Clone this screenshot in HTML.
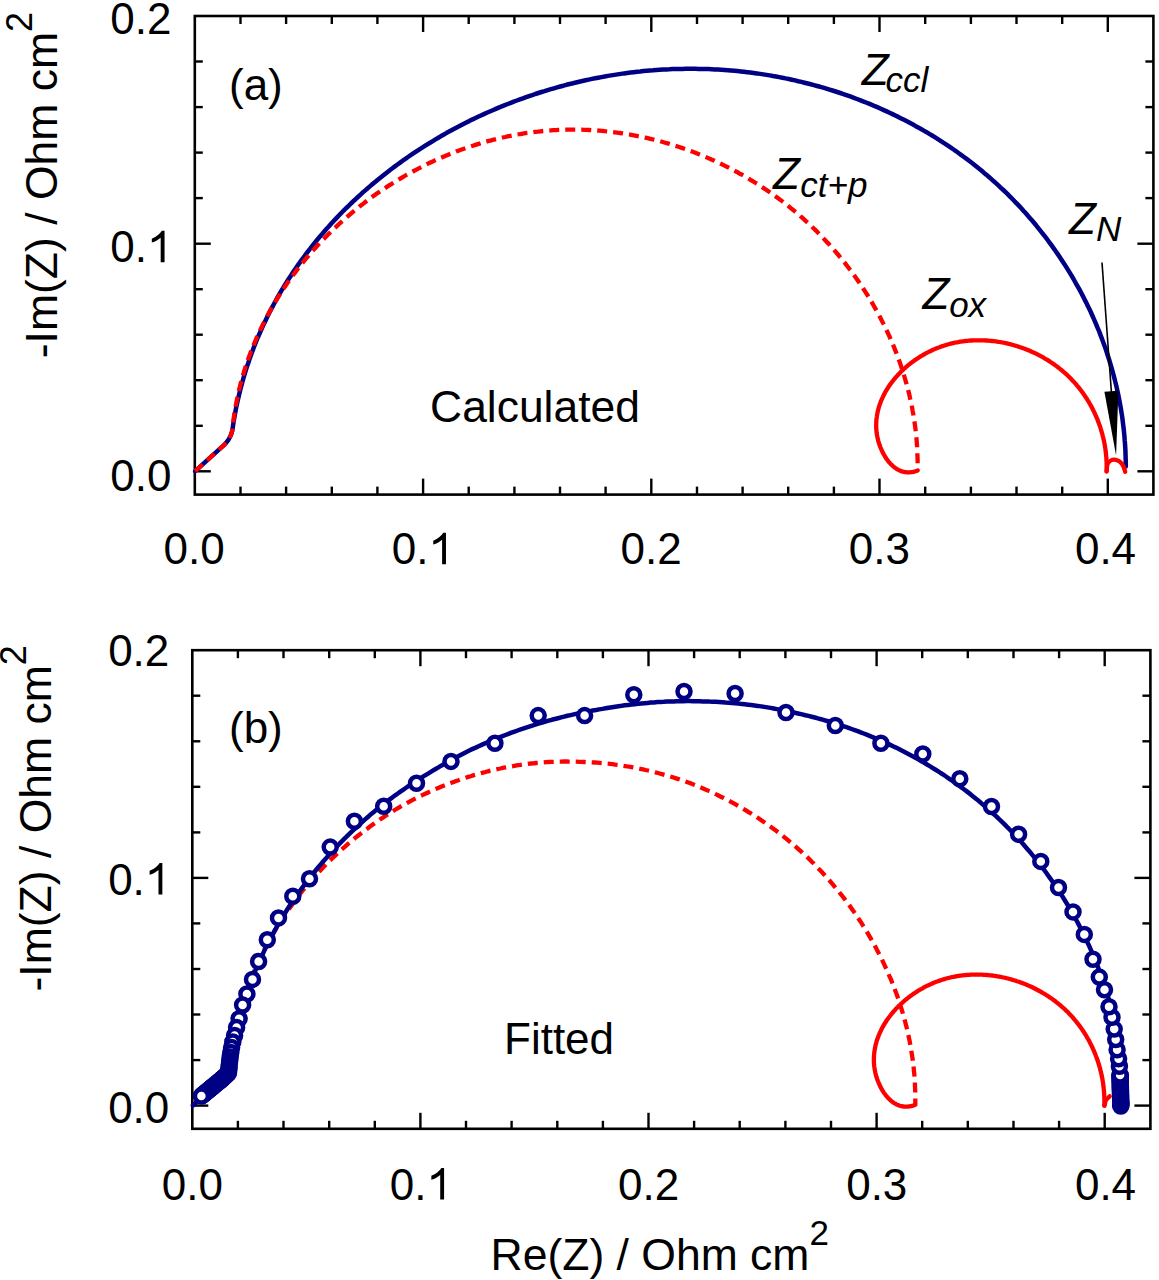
<!DOCTYPE html>
<html><head><meta charset="utf-8"><style>
html,body{margin:0;padding:0;background:#fff;}
svg{display:block;font-family:"Liberation Sans",sans-serif;}
</style></head><body>
<svg width="1159" height="1280" viewBox="0 0 1159 1280">
<rect width="1159" height="1280" fill="#fff"/>
<g stroke="#000" stroke-width="2.4" stroke-linecap="butt">
<rect x="194.8" y="16.0" width="958.6" height="478.6" fill="none" stroke="#000" stroke-width="2.6"/>
<line x1="240.5" y1="494.6" x2="240.5" y2="486.6" />
<line x1="240.5" y1="16.0" x2="240.5" y2="24.0" />
<line x1="286.1" y1="494.6" x2="286.1" y2="486.6" />
<line x1="286.1" y1="16.0" x2="286.1" y2="24.0" />
<line x1="331.8" y1="494.6" x2="331.8" y2="486.6" />
<line x1="331.8" y1="16.0" x2="331.8" y2="24.0" />
<line x1="377.4" y1="494.6" x2="377.4" y2="486.6" />
<line x1="377.4" y1="16.0" x2="377.4" y2="24.0" />
<line x1="423.1" y1="494.6" x2="423.1" y2="478.6" />
<line x1="423.1" y1="16.0" x2="423.1" y2="32.0" />
<line x1="468.7" y1="494.6" x2="468.7" y2="486.6" />
<line x1="468.7" y1="16.0" x2="468.7" y2="24.0" />
<line x1="514.4" y1="494.6" x2="514.4" y2="486.6" />
<line x1="514.4" y1="16.0" x2="514.4" y2="24.0" />
<line x1="560.0" y1="494.6" x2="560.0" y2="486.6" />
<line x1="560.0" y1="16.0" x2="560.0" y2="24.0" />
<line x1="605.6" y1="494.6" x2="605.6" y2="486.6" />
<line x1="605.6" y1="16.0" x2="605.6" y2="24.0" />
<line x1="651.3" y1="494.6" x2="651.3" y2="478.6" />
<line x1="651.3" y1="16.0" x2="651.3" y2="32.0" />
<line x1="697.0" y1="494.6" x2="697.0" y2="486.6" />
<line x1="697.0" y1="16.0" x2="697.0" y2="24.0" />
<line x1="742.6" y1="494.6" x2="742.6" y2="486.6" />
<line x1="742.6" y1="16.0" x2="742.6" y2="24.0" />
<line x1="788.2" y1="494.6" x2="788.2" y2="486.6" />
<line x1="788.2" y1="16.0" x2="788.2" y2="24.0" />
<line x1="833.9" y1="494.6" x2="833.9" y2="486.6" />
<line x1="833.9" y1="16.0" x2="833.9" y2="24.0" />
<line x1="879.5" y1="494.6" x2="879.5" y2="478.6" />
<line x1="879.5" y1="16.0" x2="879.5" y2="32.0" />
<line x1="925.2" y1="494.6" x2="925.2" y2="486.6" />
<line x1="925.2" y1="16.0" x2="925.2" y2="24.0" />
<line x1="970.9" y1="494.6" x2="970.9" y2="486.6" />
<line x1="970.9" y1="16.0" x2="970.9" y2="24.0" />
<line x1="1016.5" y1="494.6" x2="1016.5" y2="486.6" />
<line x1="1016.5" y1="16.0" x2="1016.5" y2="24.0" />
<line x1="1062.2" y1="494.6" x2="1062.2" y2="486.6" />
<line x1="1062.2" y1="16.0" x2="1062.2" y2="24.0" />
<line x1="1107.8" y1="494.6" x2="1107.8" y2="478.6" />
<line x1="1107.8" y1="16.0" x2="1107.8" y2="32.0" />
<line x1="194.8" y1="471.3" x2="210.8" y2="471.3" />
<line x1="1153.4" y1="471.3" x2="1137.4" y2="471.3" />
<line x1="194.8" y1="425.8" x2="202.8" y2="425.8" />
<line x1="1153.4" y1="425.8" x2="1145.4" y2="425.8" />
<line x1="194.8" y1="380.2" x2="202.8" y2="380.2" />
<line x1="1153.4" y1="380.2" x2="1145.4" y2="380.2" />
<line x1="194.8" y1="334.7" x2="202.8" y2="334.7" />
<line x1="1153.4" y1="334.7" x2="1145.4" y2="334.7" />
<line x1="194.8" y1="289.2" x2="202.8" y2="289.2" />
<line x1="1153.4" y1="289.2" x2="1145.4" y2="289.2" />
<line x1="194.8" y1="243.7" x2="210.8" y2="243.7" />
<line x1="1153.4" y1="243.7" x2="1137.4" y2="243.7" />
<line x1="194.8" y1="198.1" x2="202.8" y2="198.1" />
<line x1="1153.4" y1="198.1" x2="1145.4" y2="198.1" />
<line x1="194.8" y1="152.6" x2="202.8" y2="152.6" />
<line x1="1153.4" y1="152.6" x2="1145.4" y2="152.6" />
<line x1="194.8" y1="107.1" x2="202.8" y2="107.1" />
<line x1="1153.4" y1="107.1" x2="1145.4" y2="107.1" />
<line x1="194.8" y1="61.5" x2="202.8" y2="61.5" />
<line x1="1153.4" y1="61.5" x2="1145.4" y2="61.5" />
<rect x="192.3" y="650.2" width="958.1" height="478.6" fill="none" stroke="#000" stroke-width="2.6"/>
<line x1="237.9" y1="1128.8" x2="237.9" y2="1120.8" />
<line x1="237.9" y1="650.2" x2="237.9" y2="658.2" />
<line x1="283.5" y1="1128.8" x2="283.5" y2="1120.8" />
<line x1="283.5" y1="650.2" x2="283.5" y2="658.2" />
<line x1="329.2" y1="1128.8" x2="329.2" y2="1120.8" />
<line x1="329.2" y1="650.2" x2="329.2" y2="658.2" />
<line x1="374.8" y1="1128.8" x2="374.8" y2="1120.8" />
<line x1="374.8" y1="650.2" x2="374.8" y2="658.2" />
<line x1="420.4" y1="1128.8" x2="420.4" y2="1112.8" />
<line x1="420.4" y1="650.2" x2="420.4" y2="666.2" />
<line x1="466.0" y1="1128.8" x2="466.0" y2="1120.8" />
<line x1="466.0" y1="650.2" x2="466.0" y2="658.2" />
<line x1="511.6" y1="1128.8" x2="511.6" y2="1120.8" />
<line x1="511.6" y1="650.2" x2="511.6" y2="658.2" />
<line x1="557.3" y1="1128.8" x2="557.3" y2="1120.8" />
<line x1="557.3" y1="650.2" x2="557.3" y2="658.2" />
<line x1="602.9" y1="1128.8" x2="602.9" y2="1120.8" />
<line x1="602.9" y1="650.2" x2="602.9" y2="658.2" />
<line x1="648.5" y1="1128.8" x2="648.5" y2="1112.8" />
<line x1="648.5" y1="650.2" x2="648.5" y2="666.2" />
<line x1="694.1" y1="1128.8" x2="694.1" y2="1120.8" />
<line x1="694.1" y1="650.2" x2="694.1" y2="658.2" />
<line x1="739.7" y1="1128.8" x2="739.7" y2="1120.8" />
<line x1="739.7" y1="650.2" x2="739.7" y2="658.2" />
<line x1="785.4" y1="1128.8" x2="785.4" y2="1120.8" />
<line x1="785.4" y1="650.2" x2="785.4" y2="658.2" />
<line x1="831.0" y1="1128.8" x2="831.0" y2="1120.8" />
<line x1="831.0" y1="650.2" x2="831.0" y2="658.2" />
<line x1="876.6" y1="1128.8" x2="876.6" y2="1112.8" />
<line x1="876.6" y1="650.2" x2="876.6" y2="666.2" />
<line x1="922.2" y1="1128.8" x2="922.2" y2="1120.8" />
<line x1="922.2" y1="650.2" x2="922.2" y2="658.2" />
<line x1="967.8" y1="1128.8" x2="967.8" y2="1120.8" />
<line x1="967.8" y1="650.2" x2="967.8" y2="658.2" />
<line x1="1013.5" y1="1128.8" x2="1013.5" y2="1120.8" />
<line x1="1013.5" y1="650.2" x2="1013.5" y2="658.2" />
<line x1="1059.1" y1="1128.8" x2="1059.1" y2="1120.8" />
<line x1="1059.1" y1="650.2" x2="1059.1" y2="658.2" />
<line x1="1104.7" y1="1128.8" x2="1104.7" y2="1112.8" />
<line x1="1104.7" y1="650.2" x2="1104.7" y2="666.2" />
<line x1="192.3" y1="1105.6" x2="208.3" y2="1105.6" />
<line x1="1150.4" y1="1105.6" x2="1134.4" y2="1105.6" />
<line x1="192.3" y1="1060.1" x2="200.3" y2="1060.1" />
<line x1="1150.4" y1="1060.1" x2="1142.4" y2="1060.1" />
<line x1="192.3" y1="1014.5" x2="200.3" y2="1014.5" />
<line x1="1150.4" y1="1014.5" x2="1142.4" y2="1014.5" />
<line x1="192.3" y1="969.0" x2="200.3" y2="969.0" />
<line x1="1150.4" y1="969.0" x2="1142.4" y2="969.0" />
<line x1="192.3" y1="923.4" x2="200.3" y2="923.4" />
<line x1="1150.4" y1="923.4" x2="1142.4" y2="923.4" />
<line x1="192.3" y1="877.9" x2="208.3" y2="877.9" />
<line x1="1150.4" y1="877.9" x2="1134.4" y2="877.9" />
<line x1="192.3" y1="832.4" x2="200.3" y2="832.4" />
<line x1="1150.4" y1="832.4" x2="1142.4" y2="832.4" />
<line x1="192.3" y1="786.8" x2="200.3" y2="786.8" />
<line x1="1150.4" y1="786.8" x2="1142.4" y2="786.8" />
<line x1="192.3" y1="741.3" x2="200.3" y2="741.3" />
<line x1="1150.4" y1="741.3" x2="1142.4" y2="741.3" />
<line x1="192.3" y1="695.7" x2="200.3" y2="695.7" />
<line x1="1150.4" y1="695.7" x2="1142.4" y2="695.7" />
</g>
<path id="cblue" d="M195.2,471.2 L222.8,446.2 L224.8,444.3 L226.6,442.2 L228.2,440.1 L229.5,437.8 L230.7,435.5 L231.6,433.0 L232.3,430.5 L232.8,427.2 L233.3,423.9 L233.8,420.6 L234.4,417.3 L235.0,414.0 L235.6,410.7 L236.2,407.5 L236.9,404.2 L237.6,401.0 L238.4,397.8 L239.1,394.6 L239.9,391.4 L240.7,388.2 L241.6,385.0 L242.4,381.8 L243.3,378.7 L244.2,375.6 L245.2,372.4 L246.1,369.3 L247.1,366.2 L248.2,363.2 L249.2,360.1 L250.3,357.0 L251.4,354.0 L252.5,351.0 L253.6,347.9 L254.8,344.9 L256.0,341.9 L257.2,339.0 L258.5,336.0 L259.8,333.0 L261.1,330.1 L262.4,327.2 L263.7,324.3 L265.1,321.4 L266.5,318.5 L267.9,315.6 L269.3,312.7 L270.8,309.9 L272.3,307.1 L273.8,304.3 L275.3,301.5 L276.8,298.7 L278.4,295.9 L280.0,293.1 L281.6,290.4 L283.3,287.6 L284.9,284.9 L286.6,282.2 L288.3,279.5 L290.0,276.9 L291.8,274.2 L293.5,271.6 L295.3,268.9 L297.1,266.3 L299.0,263.7 L300.8,261.1 L302.7,258.5 L304.6,256.0 L306.5,253.4 L308.4,250.9 L310.4,248.4 L312.3,245.9 L314.3,243.4 L316.3,240.9 L318.3,238.5 L320.4,236.1 L322.5,233.6 L324.5,231.2 L326.6,228.8 L328.8,226.5 L330.9,224.1 L333.0,221.7 L335.2,219.4 L337.4,217.1 L339.6,214.8 L341.8,212.5 L344.1,210.2 L346.3,208.0 L348.6,205.8 L350.9,203.5 L353.2,201.3 L355.6,199.2 L357.9,197.0 L360.3,194.8 L362.6,192.7 L365.0,190.6 L367.4,188.5 L369.9,186.4 L372.3,184.3 L374.8,182.2 L377.2,180.2 L379.7,178.2 L382.2,176.2 L384.7,174.2 L387.3,172.2 L389.8,170.2 L392.4,168.3 L394.9,166.4 L397.5,164.5 L400.1,162.6 L402.7,160.7 L405.4,158.9 L408.0,157.0 L410.7,155.2 L413.3,153.4 L416.0,151.6 L418.7,149.8 L421.4,148.1 L424.1,146.4 L426.9,144.6 L429.6,143.0 L432.4,141.3 L435.1,139.6 L437.9,138.0 L440.7,136.3 L443.5,134.7 L446.3,133.1 L449.1,131.6 L452.0,130.0 L454.8,128.5 L457.7,127.0 L460.5,125.5 L463.4,124.0 L466.3,122.5 L469.2,121.1 L472.1,119.6 L475.0,118.2 L478.0,116.8 L480.9,115.5 L483.9,114.1 L486.8,112.8 L489.8,111.5 L492.8,110.2 L495.8,108.9 L498.7,107.6 L501.8,106.4 L504.8,105.2 L507.8,104.0 L510.8,102.8 L513.8,101.6 L516.9,100.5 L519.9,99.4 L523.0,98.3 L526.1,97.2 L529.1,96.1 L532.2,95.1 L535.3,94.0 L538.4,93.0 L541.5,92.0 L544.6,91.1 L547.7,90.1 L550.9,89.2 L554.0,88.3 L557.1,87.4 L560.3,86.5 L563.4,85.7 L566.5,84.8 L569.7,84.0 L572.9,83.3 L576.0,82.5 L579.2,81.7 L582.4,81.0 L585.6,80.3 L588.7,79.6 L591.9,78.9 L595.1,78.3 L598.3,77.7 L601.5,77.1 L604.7,76.5 L607.9,75.9 L611.1,75.4 L614.4,74.9 L617.6,74.4 L620.8,73.9 L624.0,73.4 L627.2,73.0 L630.5,72.6 L633.7,72.2 L636.9,71.8 L640.2,71.5 L643.4,71.1 L646.7,70.8 L649.9,70.5 L653.1,70.3 L656.4,70.0 L659.6,69.8 L662.9,69.6 L666.1,69.4 L669.4,69.3 L672.6,69.1 L675.9,69.0 L679.1,68.9 L682.4,68.9 L685.6,68.8 L688.9,68.8 L692.1,68.8 L695.4,68.8 L698.6,68.9 L701.9,68.9 L705.1,69.0 L708.4,69.1 L711.6,69.2 L714.9,69.4 L718.1,69.6 L721.3,69.8 L724.6,70.0 L727.8,70.2 L731.1,70.5 L734.3,70.8 L737.5,71.1 L740.7,71.4 L744.0,71.8 L747.2,72.2 L750.4,72.6 L753.6,73.0 L756.8,73.4 L760.1,73.9 L763.3,74.4 L766.5,74.9 L769.7,75.4 L772.9,76.0 L776.0,76.5 L779.2,77.1 L782.4,77.7 L785.6,78.4 L788.8,79.0 L791.9,79.7 L795.1,80.4 L798.2,81.2 L801.4,81.9 L804.5,82.7 L807.7,83.5 L810.8,84.3 L813.9,85.1 L817.1,86.0 L820.2,86.8 L823.3,87.7 L826.4,88.6 L829.5,89.6 L832.5,90.5 L835.6,91.5 L838.7,92.5 L841.8,93.5 L844.8,94.6 L847.9,95.7 L850.9,96.7 L853.9,97.8 L857.0,99.0 L860.0,100.1 L863.0,101.3 L866.0,102.5 L869.0,103.7 L871.9,104.9 L874.9,106.2 L877.9,107.4 L880.8,108.7 L883.8,110.1 L886.7,111.4 L889.6,112.7 L892.5,114.1 L895.4,115.5 L898.3,116.9 L901.2,118.4 L904.0,119.8 L906.9,121.3 L909.7,122.8 L912.6,124.3 L915.4,125.9 L918.2,127.4 L921.0,129.0 L923.8,130.6 L926.6,132.2 L929.3,133.9 L932.1,135.5 L934.8,137.2 L937.5,138.9 L940.2,140.6 L942.9,142.4 L945.6,144.1 L948.3,145.9 L950.9,147.7 L953.6,149.5 L956.2,151.3 L958.8,153.2 L961.4,155.1 L964.0,157.0 L966.6,158.9 L969.1,160.8 L971.7,162.8 L974.2,164.8 L976.7,166.8 L979.2,168.8 L981.7,170.8 L984.1,172.9 L986.6,174.9 L989.0,177.0 L991.4,179.1 L993.8,181.3 L996.2,183.4 L998.6,185.6 L1000.9,187.8 L1003.3,190.0 L1005.6,192.2 L1007.9,194.4 L1010.1,196.7 L1012.4,199.0 L1014.6,201.3 L1016.9,203.6 L1019.1,205.9 L1021.3,208.3 L1023.4,210.7 L1025.6,213.1 L1027.7,215.5 L1029.8,217.9 L1031.9,220.3 L1034.0,222.8 L1036.1,225.3 L1038.1,227.8 L1040.1,230.3 L1042.1,232.8 L1044.1,235.4 L1046.1,237.9 L1048.0,240.5 L1049.9,243.1 L1051.8,245.7 L1053.7,248.3 L1055.6,251.0 L1057.4,253.6 L1059.2,256.3 L1061.0,259.0 L1062.8,261.7 L1064.6,264.4 L1066.3,267.1 L1068.0,269.9 L1069.7,272.6 L1071.4,275.4 L1073.0,278.2 L1074.6,281.0 L1076.2,283.8 L1077.8,286.6 L1079.4,289.4 L1080.9,292.3 L1082.4,295.1 L1083.9,298.0 L1085.3,300.9 L1086.8,303.8 L1088.2,306.7 L1089.6,309.6 L1091.0,312.5 L1092.3,315.5 L1093.6,318.4 L1094.9,321.4 L1096.2,324.4 L1097.4,327.4 L1098.7,330.3 L1099.9,333.4 L1101.0,336.4 L1102.2,339.4 L1103.3,342.4 L1104.4,345.5 L1105.5,348.5 L1106.5,351.6 L1107.5,354.7 L1108.5,357.7 L1109.5,360.8 L1110.4,363.9 L1111.3,367.0 L1112.2,370.2 L1113.1,373.3 L1113.9,376.4 L1114.7,379.5 L1115.5,382.7 L1116.3,385.8 L1117.0,389.0 L1117.7,392.2 L1118.4,395.3 L1119.0,398.5 L1119.6,401.7 L1120.2,404.9 L1120.8,408.1 L1121.3,411.3 L1121.8,414.5 L1122.3,417.7 L1122.7,420.9 L1123.1,424.2 L1123.5,427.4 L1123.9,430.6 L1124.2,433.9 L1124.5,437.1 L1124.7,440.4 L1125.0,443.6 L1125.2,446.9 L1125.4,450.1 L1125.5,453.4 L1125.6,456.7 L1125.7,460.0 L1125.8,463.2 L1125.8,466.5" fill="none" stroke="#000084" stroke-width="4.5" stroke-linejoin="round" stroke-linecap="round"/>
<path d="M195.2,471.2 L222.8,446.2 L224.8,444.3 L226.6,442.2 L228.2,440.1 L229.5,437.8 L230.7,435.5 L231.6,433.0 L232.3,430.5 L232.6,427.9 L232.9,425.2 L233.2,422.6 L233.5,420.0 L233.8,417.4 L234.2,414.8 L234.6,412.2 L235.0,409.6 L235.5,407.0 L236.0,404.4 L236.5,401.9 L237.0,399.3 L237.5,396.7 L238.1,394.2 L238.6,391.6 L239.2,389.1 L239.9,386.6 L240.5,384.1 L241.2,381.5 L241.9,379.0 L242.6,376.5 L243.3,374.0 L244.1,371.5 L244.8,369.1 L245.6,366.6 L246.4,364.1 L247.3,361.7 L248.1,359.2 L249.0,356.8 L249.9,354.4 L250.8,352.0 L251.8,349.5 L252.7,347.1 L253.7,344.7 L254.7,342.4 L255.7,340.0 L256.7,337.6 L257.8,335.2 L258.9,332.9 L259.9,330.6 L261.1,328.2 L262.2,325.9 L263.3,323.6 L264.5,321.3 L265.7,319.0 L266.9,316.7 L268.1,314.4 L269.3,312.2 L270.6,309.9 L271.9,307.7 L273.2,305.4 L274.5,303.2 L275.8,301.0 L277.1,298.8 L278.5,296.6 L279.9,294.4 L281.3,292.2 L282.7,290.0 L284.1,287.9 L285.6,285.7 L287.0,283.6 L288.5,281.5 L290.0,279.4 L291.5,277.3 L293.0,275.2 L294.6,273.1 L296.1,271.1 L297.7,269.0 L299.3,267.0 L300.9,264.9 L302.5,262.9 L304.1,260.9 L305.8,258.9 L307.5,256.9 L309.1,255.0 L310.8,253.0 L312.5,251.0 L314.3,249.1 L316.0,247.2 L317.7,245.3 L319.5,243.4 L321.3,241.5 L323.1,239.6 L324.9,237.8 L326.7,235.9 L328.5,234.1 L330.4,232.3 L332.2,230.4 L334.1,228.6 L336.0,226.9 L337.9,225.1 L339.8,223.3 L341.7,221.6 L343.7,219.9 L345.6,218.2 L347.6,216.5 L349.5,214.8 L351.5,213.1 L353.5,211.4 L355.5,209.8 L357.5,208.2 L359.6,206.5 L361.6,204.9 L363.7,203.4 L365.7,201.8 L367.8,200.2 L369.9,198.7 L372.0,197.1 L374.1,195.6 L376.2,194.1 L378.3,192.6 L380.5,191.2 L382.6,189.7 L384.8,188.3 L386.9,186.9 L389.1,185.4 L391.3,184.1 L393.5,182.7 L395.7,181.3 L397.9,180.0 L400.2,178.6 L402.4,177.3 L404.6,176.0 L406.9,174.7 L409.1,173.5 L411.4,172.2 L413.7,171.0 L416.0,169.8 L418.3,168.6 L420.6,167.4 L422.9,166.2 L425.2,165.1 L427.5,163.9 L429.8,162.8 L432.2,161.7 L434.5,160.6 L436.9,159.5 L439.3,158.5 L441.6,157.5 L444.0,156.5 L446.4,155.5 L448.8,154.5 L451.2,153.5 L453.6,152.6 L456.0,151.6 L458.4,150.7 L460.8,149.8 L463.2,149.0 L465.7,148.1 L468.1,147.3 L470.5,146.5 L473.0,145.7 L475.4,144.9 L477.9,144.1 L480.4,143.4 L482.8,142.6 L485.3,141.9 L487.8,141.2 L490.3,140.6 L492.7,139.9 L495.2,139.3 L497.7,138.7 L500.2,138.1 L502.7,137.5 L505.2,137.0 L507.7,136.4 L510.3,135.9 L512.8,135.4 L515.3,134.9 L517.8,134.5 L520.3,134.0 L522.9,133.6 L525.4,133.2 L527.9,132.9 L530.5,132.5 L533.0,132.2 L535.6,131.8 L538.1,131.6 L540.7,131.3 L543.2,131.0 L545.8,130.8 L548.3,130.6 L550.9,130.4 L553.4,130.2 L556.0,130.1 L558.5,129.9 L561.1,129.8 L563.7,129.8 L566.2,129.7 L568.8,129.6 L571.3,129.6 L573.9,129.6 L576.5,129.6 L579.0,129.7 L581.6,129.7 L584.1,129.8 L586.7,129.9 L589.3,130.0 L591.8,130.2 L594.4,130.3 L597.0,130.5 L599.5,130.7 L602.1,130.9 L604.6,131.2 L607.2,131.4 L609.7,131.7 L612.3,132.0 L614.8,132.3 L617.4,132.7 L619.9,133.0 L622.5,133.4 L625.0,133.8 L627.6,134.2 L630.1,134.6 L632.6,135.1 L635.2,135.6 L637.7,136.1 L640.2,136.6 L642.7,137.1 L645.2,137.6 L647.8,138.2 L650.3,138.8 L652.8,139.4 L655.3,140.0 L657.8,140.7 L660.3,141.3 L662.8,142.0 L665.2,142.7 L667.7,143.4 L670.2,144.2 L672.7,144.9 L675.1,145.7 L677.6,146.5 L680.0,147.3 L682.5,148.1 L684.9,149.0 L687.4,149.8 L689.8,150.7 L692.2,151.6 L694.6,152.5 L697.1,153.5 L699.5,154.4 L701.9,155.4 L704.3,156.4 L706.6,157.4 L709.0,158.4 L711.4,159.5 L713.8,160.5 L716.1,161.6 L718.5,162.7 L720.8,163.8 L723.1,164.9 L725.5,166.1 L727.8,167.2 L730.1,168.4 L732.4,169.6 L734.7,170.8 L737.0,172.0 L739.2,173.3 L741.5,174.5 L743.8,175.8 L746.0,177.1 L748.3,178.4 L750.5,179.8 L752.7,181.1 L754.9,182.5 L757.1,183.8 L759.3,185.2 L761.5,186.7 L763.6,188.1 L765.8,189.5 L767.9,191.0 L770.1,192.5 L772.2,194.0 L774.3,195.5 L776.4,197.0 L778.5,198.5 L780.6,200.1 L782.7,201.6 L784.7,203.2 L786.8,204.8 L788.8,206.4 L790.8,208.1 L792.8,209.7 L794.8,211.4 L796.8,213.1 L798.8,214.8 L800.7,216.5 L802.7,218.2 L804.6,219.9 L806.5,221.7 L808.5,223.4 L810.4,225.2 L812.2,227.0 L814.1,228.8 L816.0,230.6 L817.8,232.5 L819.6,234.3 L821.4,236.2 L823.2,238.1 L825.0,240.0 L826.8,241.9 L828.6,243.8 L830.3,245.7 L832.0,247.6 L833.8,249.6 L835.5,251.6 L837.1,253.5 L838.8,255.5 L840.5,257.5 L842.1,259.5 L843.7,261.6 L845.4,263.6 L847.0,265.7 L848.5,267.7 L850.1,269.8 L851.7,271.9 L853.2,274.0 L854.7,276.1 L856.2,278.2 L857.7,280.3 L859.2,282.5 L860.6,284.6 L862.1,286.8 L863.5,289.0 L864.9,291.1 L866.3,293.3 L867.7,295.5 L869.1,297.7 L870.4,300.0 L871.7,302.2 L873.0,304.4 L874.3,306.7 L875.6,308.9 L876.9,311.2 L878.1,313.5 L879.3,315.8 L880.5,318.1 L881.7,320.4 L882.9,322.7 L884.1,325.0 L885.2,327.3 L886.3,329.7 L887.4,332.0 L888.5,334.4 L889.6,336.7 L890.6,339.1 L891.6,341.5 L892.7,343.9 L893.7,346.3 L894.6,348.7 L895.6,351.1 L896.5,353.5 L897.4,355.9 L898.3,358.3 L899.2,360.8 L900.1,363.2 L900.9,365.6 L901.7,368.1 L902.5,370.5 L903.3,373.0 L904.1,375.5 L904.8,378.0 L905.5,380.4 L906.2,382.9 L906.9,385.4 L907.6,387.9 L908.2,390.4 L908.9,392.9 L909.5,395.5 L910.0,398.0 L910.6,400.5 L911.1,403.0 L911.7,405.6 L912.2,408.1 L912.6,410.6 L913.1,413.2 L913.5,415.7 L913.9,418.3 L914.3,420.8 L914.7,423.4 L915.1,426.0 L915.4,428.5 L915.7,431.1 L916.0,433.7 L916.2,436.3 L916.5,438.8 L916.7,441.4 L916.9,444.0 L917.1,446.6 L917.2,449.2 L917.3,451.8 L917.4,454.4 L917.5,457.0 L917.6,459.6 L917.6,462.2 L917.6,464.8 L917.6,467.4 L917.6,470.0" fill="none" stroke="#ff0000" stroke-width="4.3" stroke-dasharray="10 6" />
<path d="M917.6,470.5 L916.5,470.9 L915.4,471.3 L914.3,471.6 L913.2,471.9 L912.1,472.1 L911.0,472.2 L910.0,472.3 L908.9,472.4 L907.9,472.4 L906.9,472.3 L905.9,472.2 L904.9,472.1 L903.9,471.9 L903.0,471.7 L902.0,471.4 L901.1,471.1 L900.2,470.7 L899.3,470.3 L898.4,469.9 L897.5,469.4 L896.7,468.9 L895.8,468.3 L895.0,467.8 L894.2,467.2 L893.4,466.5 L892.6,465.8 L891.9,465.1 L891.1,464.4 L890.4,463.7 L889.7,462.9 L889.0,462.1 L888.3,461.3 L887.7,460.4 L887.0,459.5 L886.4,458.7 L885.8,457.8 L885.2,456.8 L884.6,455.9 L884.1,454.9 L883.5,454.0 L883.0,453.0 L882.5,452.0 L882.0,451.0 L881.6,450.0 L881.1,449.0 L880.7,448.0 L880.3,447.0 L879.9,445.9 L879.5,444.9 L879.2,443.9 L878.8,442.8 L878.5,441.8 L878.2,440.8 L878.0,439.7 L877.7,438.7 L877.5,437.7 L877.3,436.6 L877.1,435.6 L876.9,434.6 L876.8,433.5 L876.6,432.5 L876.5,431.5 L876.4,430.5 L876.3,429.4 L876.3,428.4 L876.2,427.4 L876.2,426.4 L876.2,425.3 L876.2,424.3 L876.2,423.3 L876.3,422.3 L876.3,421.3 L876.4,420.3 L876.5,419.3 L876.6,418.3 L876.7,417.3 L876.9,416.3 L877.0,415.3 L877.2,414.3 L877.4,413.3 L877.6,412.3 L877.8,411.3 L878.0,410.3 L878.3,409.3 L878.6,408.4 L878.8,407.4 L879.1,406.4 L879.4,405.5 L879.8,404.5 L880.1,403.5 L880.5,402.6 L880.8,401.6 L881.2,400.7 L881.6,399.7 L882.0,398.8 L882.4,397.9 L882.9,396.9 L883.3,396.0 L883.8,395.1 L884.2,394.2 L884.7,393.2 L885.2,392.3 L885.7,391.4 L886.3,390.5 L886.8,389.6 L887.3,388.8 L887.9,387.9 L888.5,387.0 L889.0,386.1 L889.6,385.2 L890.2,384.4 L890.9,383.5 L891.5,382.7 L892.1,381.8 L892.8,381.0 L893.4,380.2 L894.1,379.3 L894.8,378.5 L895.5,377.7 L896.2,376.9 L896.9,376.1 L897.6,375.3 L898.3,374.5 L899.1,373.7 L899.8,373.0 L900.6,372.2 L901.3,371.4 L902.1,370.7 L902.9,369.9 L903.7,369.2 L904.5,368.5 L905.3,367.8 L906.1,367.0 L906.9,366.3 L907.7,365.6 L908.6,364.9 L909.4,364.3 L910.3,363.6 L911.1,362.9 L912.0,362.3 L912.9,361.6 L913.8,361.0 L914.7,360.3 L915.5,359.7 L916.4,359.1 L917.4,358.5 L918.3,357.9 L919.2,357.3 L920.1,356.7 L921.0,356.1 L922.0,355.6 L922.9,355.0 L923.9,354.5 L924.8,354.0 L925.8,353.4 L926.7,352.9 L927.7,352.4 L928.7,351.9 L929.6,351.4 L930.6,351.0 L931.6,350.5 L932.6,350.0 L933.6,349.6 L934.5,349.2 L935.5,348.7 L936.5,348.3 L937.5,347.9 L938.5,347.5 L939.6,347.2 L940.6,346.8 L941.6,346.4 L942.6,346.1 L943.6,345.8 L944.6,345.4 L945.7,345.1 L946.7,344.8 L947.7,344.5 L948.7,344.2 L949.8,343.9 L950.8,343.7 L951.8,343.4 L952.9,343.2 L953.9,342.9 L955.0,342.7 L956.0,342.5 L957.1,342.3 L958.1,342.1 L959.2,341.9 L960.2,341.7 L961.3,341.6 L962.3,341.4 L963.4,341.3 L964.4,341.1 L965.5,341.0 L966.6,340.9 L967.6,340.8 L968.7,340.7 L969.7,340.6 L970.8,340.5 L971.9,340.5 L972.9,340.4 L974.0,340.4 L975.1,340.3 L976.1,340.3 L977.2,340.3 L978.3,340.3 L979.3,340.3 L980.4,340.3 L981.5,340.3 L982.5,340.3 L983.6,340.4 L984.7,340.4 L985.7,340.5 L986.8,340.5 L987.8,340.6 L988.9,340.7 L990.0,340.8 L991.0,340.9 L992.1,341.0 L993.2,341.1 L994.2,341.2 L995.3,341.3 L996.3,341.5 L997.4,341.6 L998.5,341.8 L999.5,342.0 L1000.6,342.2 L1001.6,342.3 L1002.7,342.5 L1003.7,342.7 L1004.8,343.0 L1005.8,343.2 L1006.9,343.4 L1007.9,343.7 L1008.9,343.9 L1010.0,344.2 L1011.0,344.4 L1012.1,344.7 L1013.1,345.0 L1014.1,345.3 L1015.1,345.6 L1016.2,345.9 L1017.2,346.2 L1018.2,346.5 L1019.2,346.9 L1020.2,347.2 L1021.3,347.5 L1022.3,347.9 L1023.3,348.3 L1024.3,348.6 L1025.3,349.0 L1026.3,349.4 L1027.3,349.8 L1028.3,350.2 L1029.3,350.6 L1030.2,351.0 L1031.2,351.5 L1032.2,351.9 L1033.2,352.3 L1034.1,352.8 L1035.1,353.2 L1036.1,353.7 L1037.0,354.2 L1038.0,354.7 L1038.9,355.2 L1039.9,355.7 L1040.8,356.2 L1041.7,356.7 L1042.7,357.2 L1043.6,357.7 L1044.5,358.3 L1045.4,358.8 L1046.4,359.3 L1047.3,359.9 L1048.2,360.5 L1049.1,361.0 L1050.0,361.6 L1050.8,362.2 L1051.7,362.8 L1052.6,363.4 L1053.5,364.0 L1054.4,364.6 L1055.2,365.2 L1056.1,365.8 L1056.9,366.5 L1057.8,367.1 L1058.6,367.8 L1059.4,368.4 L1060.3,369.1 L1061.1,369.8 L1061.9,370.4 L1062.7,371.1 L1063.5,371.8 L1064.3,372.5 L1065.1,373.2 L1065.9,373.9 L1066.7,374.6 L1067.4,375.3 L1068.2,376.1 L1069.0,376.8 L1069.7,377.5 L1070.5,378.3 L1071.2,379.0 L1071.9,379.8 L1072.6,380.6 L1073.4,381.3 L1074.1,382.1 L1074.8,382.9 L1075.5,383.7 L1076.2,384.5 L1076.8,385.3 L1077.5,386.1 L1078.2,386.9 L1078.8,387.7 L1079.5,388.5 L1080.1,389.4 L1080.8,390.2 L1081.4,391.0 L1082.0,391.9 L1082.7,392.7 L1083.3,393.6 L1083.9,394.5 L1084.5,395.3 L1085.1,396.2 L1085.7,397.1 L1086.2,398.0 L1086.8,398.8 L1087.4,399.7 L1087.9,400.6 L1088.5,401.5 L1089.0,402.4 L1089.5,403.3 L1090.0,404.2 L1090.6,405.2 L1091.1,406.1 L1091.6,407.0 L1092.1,407.9 L1092.5,408.9 L1093.0,409.8 L1093.5,410.8 L1094.0,411.7 L1094.4,412.7 L1094.9,413.6 L1095.3,414.6 L1095.7,415.5 L1096.1,416.5 L1096.6,417.5 L1097.0,418.4 L1097.4,419.4 L1097.8,420.4 L1098.1,421.4 L1098.5,422.4 L1098.9,423.4 L1099.2,424.3 L1099.6,425.3 L1099.9,426.3 L1100.3,427.3 L1100.6,428.3 L1100.9,429.4 L1101.2,430.4 L1101.5,431.4 L1101.8,432.4 L1102.1,433.4 L1102.4,434.4 L1102.6,435.5 L1102.9,436.5 L1103.2,437.5 L1103.4,438.6 L1103.6,439.6 L1103.9,440.6 L1104.1,441.7 L1104.3,442.7 L1104.5,443.7 L1104.7,444.8 L1104.9,445.8 L1105.0,446.9 L1105.2,447.9 L1105.4,449.0 L1105.5,450.0 L1105.6,451.1 L1105.8,452.2 L1105.9,453.2 L1106.0,454.3 L1106.1,455.3 L1106.2,456.4 L1106.3,457.5 L1106.4,458.5 L1106.4,459.6 L1106.5,460.7 L1106.6,461.7 L1106.6,462.8 L1106.6,463.9 L1106.7,465.0 L1106.7,466.0 L1106.7,467.1 L1106.7,468.2 L1106.7,469.2 L1106.6,470.3 L1106.6,471.4" fill="none" stroke="#ff0000" stroke-width="4.3" stroke-linejoin="round" stroke-linecap="round"/>
<path d="M1106.6,471.4 L1107.2,465 C1109.5,457.5 1122,456.5 1125.2,471.8" fill="none" stroke="#ff0000" stroke-width="4.3" stroke-linecap="round"/>
<line x1="1102" y1="262.5" x2="1111.4" y2="392" stroke="#000" stroke-width="1.6"/>
<polygon points="1104.4,391.7 1118.4,390.7 1116.1,455.5" fill="#000"/>
<path d="M192.9,1105.5 L220.5,1080.0 L222.5,1078.0 L224.3,1076.0 L225.9,1073.8 L227.2,1071.5 L228.4,1069.2 L229.3,1066.7 L230.0,1064.1 L230.3,1061.5 L230.6,1058.9 L230.9,1056.2 L231.2,1053.6 L231.5,1051.0 L231.9,1048.4 L232.3,1045.8 L232.7,1043.2 L233.2,1040.6 L233.7,1038.0 L234.2,1035.4 L234.7,1032.9 L235.2,1030.3 L235.8,1027.7 L236.3,1025.2 L236.9,1022.6 L237.6,1020.1 L238.2,1017.5 L238.9,1015.0 L239.6,1012.5 L240.3,1010.0 L241.0,1007.5 L241.8,1005.0 L242.5,1002.5 L243.3,1000.0 L244.1,997.5 L245.0,995.1 L245.8,992.6 L246.7,990.2 L247.6,987.7 L248.5,985.3 L249.5,982.8 L250.4,980.4 L251.4,978.0 L252.4,975.5 L253.4,973.1 L254.4,970.7 L255.5,968.3 L256.6,965.9 L257.6,963.5 L258.8,961.1 L259.9,958.8 L261.0,956.4 L262.2,954.0 L263.4,951.7 L264.6,949.3 L265.8,947.0 L267.0,944.7 L268.3,942.4 L269.6,940.1 L270.9,937.8 L272.2,935.5 L273.5,933.2 L274.8,930.9 L276.2,928.7 L277.6,926.4 L279.0,924.2 L280.4,922.0 L281.8,919.8 L283.3,917.6 L284.7,915.4 L286.2,913.2 L287.7,911.0 L289.2,908.8 L290.7,906.6 L292.3,904.5 L293.8,902.3 L295.4,900.1 L297.0,898.0 L298.6,895.8 L300.2,893.7 L301.8,891.6 L303.5,889.5 L305.2,887.5 L306.8,885.5 L308.5,883.5 L310.2,881.5 L312.0,879.5 L313.7,877.6 L315.4,875.6 L317.2,873.7 L319.0,871.8 L320.8,869.9 L322.6,868.0 L324.4,866.1 L326.2,864.3 L328.1,862.4 L329.9,860.6 L331.8,858.7 L333.7,856.9 L335.6,855.1 L337.5,853.3 L339.4,851.5 L341.4,849.8 L343.3,848.0 L345.3,846.3 L347.2,844.6 L349.2,842.9 L351.2,841.2 L353.2,839.6 L355.2,837.9 L357.3,836.3 L359.3,834.7 L361.4,833.1 L363.4,831.5 L365.5,829.9 L367.6,828.4 L369.7,826.8 L371.8,825.3 L373.9,823.8 L376.0,822.3 L378.2,820.8 L380.3,819.3 L382.5,817.9 L384.6,816.4 L386.8,815.0 L389.0,813.6 L391.2,812.2 L393.4,810.8 L395.6,809.5 L397.9,808.1 L400.1,806.8 L402.3,805.5 L404.6,804.3 L406.8,803.1 L409.1,801.8 L411.4,800.6 L413.7,799.4 L416.0,798.3 L418.3,797.1 L420.6,796.0 L422.9,794.9 L425.2,793.8 L427.5,792.7 L429.9,791.6 L432.2,790.5 L434.6,789.5 L437.0,788.5 L439.3,787.5 L441.7,786.5 L444.1,785.6 L446.5,784.6 L448.9,783.7 L451.3,782.8 L453.7,781.9 L456.1,781.0 L458.5,780.2 L460.9,779.3 L463.4,778.5 L465.8,777.7 L468.2,776.9 L470.7,776.2 L473.1,775.4 L475.6,774.7 L478.1,774.0 L480.5,773.3 L483.0,772.6 L485.5,772.0 L488.0,771.3 L490.4,770.7 L492.9,770.1 L495.4,769.6 L497.9,769.0 L500.4,768.5 L502.9,767.9 L505.4,767.4 L508.0,767.0 L510.5,766.5 L513.0,766.1 L515.5,765.6 L518.0,765.2 L520.6,764.9 L523.1,764.5 L525.6,764.2 L528.2,763.8 L530.7,763.5 L533.3,763.3 L535.8,763.0 L538.4,762.8 L540.9,762.6 L543.5,762.4 L546.0,762.2 L548.6,762.0 L551.1,761.9 L553.7,761.8 L556.2,761.7 L558.8,761.6 L561.4,761.6 L563.9,761.5 L566.5,761.5 L569.0,761.6 L571.6,761.6 L574.2,761.6 L576.7,761.7 L579.3,761.8 L581.8,761.9 L584.4,762.0 L587.0,762.1 L589.5,762.2 L592.1,762.4 L594.7,762.5 L597.2,762.7 L599.8,762.9 L602.3,763.1 L604.9,763.4 L607.4,763.7 L610.0,763.9 L612.5,764.2 L615.1,764.6 L617.6,764.9 L620.2,765.3 L622.7,765.7 L625.3,766.1 L627.8,766.5 L630.3,766.9 L632.9,767.4 L635.4,767.9 L637.9,768.4 L640.4,768.9 L642.9,769.4 L645.5,770.0 L648.0,770.5 L650.5,771.1 L653.0,771.7 L655.5,772.4 L658.0,773.0 L660.5,773.7 L662.9,774.4 L665.4,775.1 L667.9,775.8 L670.4,776.5 L672.8,777.3 L675.3,778.1 L677.7,778.9 L680.2,779.7 L682.6,780.5 L685.1,781.4 L687.5,782.2 L689.9,783.1 L692.3,784.1 L694.8,785.0 L697.2,786.0 L699.6,787.0 L702.0,788.0 L704.3,789.0 L706.7,790.1 L709.1,791.1 L711.5,792.2 L713.8,793.3 L716.2,794.4 L718.5,795.5 L720.8,796.7 L723.2,797.8 L725.5,799.0 L727.8,800.2 L730.1,801.4 L732.4,802.7 L734.7,803.9 L736.9,805.2 L739.2,806.5 L741.5,807.8 L743.7,809.1 L746.0,810.4 L748.2,811.8 L750.4,813.1 L752.6,814.5 L754.8,815.9 L757.0,817.3 L759.2,818.7 L761.3,820.2 L763.5,821.7 L765.6,823.2 L767.8,824.7 L769.9,826.2 L772.0,827.7 L774.1,829.3 L776.2,830.8 L778.3,832.4 L780.4,834.0 L782.4,835.6 L784.5,837.3 L786.5,838.9 L788.5,840.6 L790.5,842.3 L792.5,843.9 L794.5,845.7 L796.5,847.4 L798.4,849.1 L800.4,850.9 L802.3,852.6 L804.2,854.4 L806.2,856.2 L808.1,858.0 L809.9,859.8 L811.8,861.7 L813.7,863.5 L815.5,865.4 L817.3,867.3 L819.1,869.2 L820.9,871.1 L822.7,873.0 L824.5,874.9 L826.3,876.9 L828.0,878.8 L829.7,880.8 L831.5,882.8 L833.2,884.8 L834.8,886.8 L836.5,888.8 L838.2,890.8 L839.8,892.9 L841.4,894.9 L843.1,897.0 L844.7,899.1 L846.2,901.2 L847.8,903.3 L849.4,905.4 L850.9,907.5 L852.4,909.7 L853.9,911.8 L855.4,914.0 L856.9,916.1 L858.3,918.3 L859.8,920.5 L861.2,922.7 L862.6,924.9 L864.0,927.1 L865.4,929.4 L866.8,931.6 L868.1,933.9 L869.4,936.1 L870.7,938.4 L872.0,940.7 L873.3,943.0 L874.6,945.3 L875.8,947.6 L877.0,949.9 L878.2,952.2 L879.4,954.5 L880.6,956.9 L881.8,959.2 L882.9,961.6 L884.0,963.9 L885.1,966.3 L886.2,968.7 L887.3,971.0 L888.3,973.4 L889.3,975.8 L890.4,978.2 L891.4,980.6 L892.3,983.0 L893.3,985.4 L894.2,987.8 L895.1,990.2 L896.0,992.6 L896.9,995.1 L897.8,997.5 L898.6,999.9 L899.4,1002.4 L900.2,1004.8 L901.0,1007.3 L901.8,1009.8 L902.5,1012.3 L903.2,1014.7 L903.9,1017.2 L904.6,1019.7 L905.3,1022.2 L905.9,1024.7 L906.6,1027.2 L907.2,1029.8 L907.7,1032.3 L908.3,1034.8 L908.8,1037.3 L909.4,1039.9 L909.9,1042.4 L910.3,1044.9 L910.8,1047.5 L911.2,1050.0 L911.6,1052.6 L912.0,1055.1 L912.4,1057.7 L912.8,1060.3 L913.1,1062.8 L913.4,1065.4 L913.7,1068.0 L913.9,1070.6 L914.2,1073.1 L914.4,1075.7 L914.6,1078.3 L914.8,1080.9 L914.9,1083.5 L915.0,1086.1 L915.1,1088.7 L915.2,1091.3 L915.3,1093.9 L915.3,1096.5 L915.3,1099.1 L915.3,1101.7 L915.3,1104.3" fill="none" stroke="#ff0000" stroke-width="4.3" stroke-dasharray="10 6" />
<g transform="translate(-2.3,634.3)">
<path d="M917.6,470.5 L916.5,470.9 L915.4,471.3 L914.3,471.6 L913.2,471.9 L912.1,472.1 L911.0,472.2 L910.0,472.3 L908.9,472.4 L907.9,472.4 L906.9,472.3 L905.9,472.2 L904.9,472.1 L903.9,471.9 L903.0,471.7 L902.0,471.4 L901.1,471.1 L900.2,470.7 L899.3,470.3 L898.4,469.9 L897.5,469.4 L896.7,468.9 L895.8,468.3 L895.0,467.8 L894.2,467.2 L893.4,466.5 L892.6,465.8 L891.9,465.1 L891.1,464.4 L890.4,463.7 L889.7,462.9 L889.0,462.1 L888.3,461.3 L887.7,460.4 L887.0,459.5 L886.4,458.7 L885.8,457.8 L885.2,456.8 L884.6,455.9 L884.1,454.9 L883.5,454.0 L883.0,453.0 L882.5,452.0 L882.0,451.0 L881.6,450.0 L881.1,449.0 L880.7,448.0 L880.3,447.0 L879.9,445.9 L879.5,444.9 L879.2,443.9 L878.8,442.8 L878.5,441.8 L878.2,440.8 L878.0,439.7 L877.7,438.7 L877.5,437.7 L877.3,436.6 L877.1,435.6 L876.9,434.6 L876.8,433.5 L876.6,432.5 L876.5,431.5 L876.4,430.5 L876.3,429.4 L876.3,428.4 L876.2,427.4 L876.2,426.4 L876.2,425.3 L876.2,424.3 L876.2,423.3 L876.3,422.3 L876.3,421.3 L876.4,420.3 L876.5,419.3 L876.6,418.3 L876.7,417.3 L876.9,416.3 L877.0,415.3 L877.2,414.3 L877.4,413.3 L877.6,412.3 L877.8,411.3 L878.0,410.3 L878.3,409.3 L878.6,408.4 L878.8,407.4 L879.1,406.4 L879.4,405.5 L879.8,404.5 L880.1,403.5 L880.5,402.6 L880.8,401.6 L881.2,400.7 L881.6,399.7 L882.0,398.8 L882.4,397.9 L882.9,396.9 L883.3,396.0 L883.8,395.1 L884.2,394.2 L884.7,393.2 L885.2,392.3 L885.7,391.4 L886.3,390.5 L886.8,389.6 L887.3,388.8 L887.9,387.9 L888.5,387.0 L889.0,386.1 L889.6,385.2 L890.2,384.4 L890.9,383.5 L891.5,382.7 L892.1,381.8 L892.8,381.0 L893.4,380.2 L894.1,379.3 L894.8,378.5 L895.5,377.7 L896.2,376.9 L896.9,376.1 L897.6,375.3 L898.3,374.5 L899.1,373.7 L899.8,373.0 L900.6,372.2 L901.3,371.4 L902.1,370.7 L902.9,369.9 L903.7,369.2 L904.5,368.5 L905.3,367.8 L906.1,367.0 L906.9,366.3 L907.7,365.6 L908.6,364.9 L909.4,364.3 L910.3,363.6 L911.1,362.9 L912.0,362.3 L912.9,361.6 L913.8,361.0 L914.7,360.3 L915.5,359.7 L916.4,359.1 L917.4,358.5 L918.3,357.9 L919.2,357.3 L920.1,356.7 L921.0,356.1 L922.0,355.6 L922.9,355.0 L923.9,354.5 L924.8,354.0 L925.8,353.4 L926.7,352.9 L927.7,352.4 L928.7,351.9 L929.6,351.4 L930.6,351.0 L931.6,350.5 L932.6,350.0 L933.6,349.6 L934.5,349.2 L935.5,348.7 L936.5,348.3 L937.5,347.9 L938.5,347.5 L939.6,347.2 L940.6,346.8 L941.6,346.4 L942.6,346.1 L943.6,345.8 L944.6,345.4 L945.7,345.1 L946.7,344.8 L947.7,344.5 L948.7,344.2 L949.8,343.9 L950.8,343.7 L951.8,343.4 L952.9,343.2 L953.9,342.9 L955.0,342.7 L956.0,342.5 L957.1,342.3 L958.1,342.1 L959.2,341.9 L960.2,341.7 L961.3,341.6 L962.3,341.4 L963.4,341.3 L964.4,341.1 L965.5,341.0 L966.6,340.9 L967.6,340.8 L968.7,340.7 L969.7,340.6 L970.8,340.5 L971.9,340.5 L972.9,340.4 L974.0,340.4 L975.1,340.3 L976.1,340.3 L977.2,340.3 L978.3,340.3 L979.3,340.3 L980.4,340.3 L981.5,340.3 L982.5,340.3 L983.6,340.4 L984.7,340.4 L985.7,340.5 L986.8,340.5 L987.8,340.6 L988.9,340.7 L990.0,340.8 L991.0,340.9 L992.1,341.0 L993.2,341.1 L994.2,341.2 L995.3,341.3 L996.3,341.5 L997.4,341.6 L998.5,341.8 L999.5,342.0 L1000.6,342.2 L1001.6,342.3 L1002.7,342.5 L1003.7,342.7 L1004.8,343.0 L1005.8,343.2 L1006.9,343.4 L1007.9,343.7 L1008.9,343.9 L1010.0,344.2 L1011.0,344.4 L1012.1,344.7 L1013.1,345.0 L1014.1,345.3 L1015.1,345.6 L1016.2,345.9 L1017.2,346.2 L1018.2,346.5 L1019.2,346.9 L1020.2,347.2 L1021.3,347.5 L1022.3,347.9 L1023.3,348.3 L1024.3,348.6 L1025.3,349.0 L1026.3,349.4 L1027.3,349.8 L1028.3,350.2 L1029.3,350.6 L1030.2,351.0 L1031.2,351.5 L1032.2,351.9 L1033.2,352.3 L1034.1,352.8 L1035.1,353.2 L1036.1,353.7 L1037.0,354.2 L1038.0,354.7 L1038.9,355.2 L1039.9,355.7 L1040.8,356.2 L1041.7,356.7 L1042.7,357.2 L1043.6,357.7 L1044.5,358.3 L1045.4,358.8 L1046.4,359.3 L1047.3,359.9 L1048.2,360.5 L1049.1,361.0 L1050.0,361.6 L1050.8,362.2 L1051.7,362.8 L1052.6,363.4 L1053.5,364.0 L1054.4,364.6 L1055.2,365.2 L1056.1,365.8 L1056.9,366.5 L1057.8,367.1 L1058.6,367.8 L1059.4,368.4 L1060.3,369.1 L1061.1,369.8 L1061.9,370.4 L1062.7,371.1 L1063.5,371.8 L1064.3,372.5 L1065.1,373.2 L1065.9,373.9 L1066.7,374.6 L1067.4,375.3 L1068.2,376.1 L1069.0,376.8 L1069.7,377.5 L1070.5,378.3 L1071.2,379.0 L1071.9,379.8 L1072.6,380.6 L1073.4,381.3 L1074.1,382.1 L1074.8,382.9 L1075.5,383.7 L1076.2,384.5 L1076.8,385.3 L1077.5,386.1 L1078.2,386.9 L1078.8,387.7 L1079.5,388.5 L1080.1,389.4 L1080.8,390.2 L1081.4,391.0 L1082.0,391.9 L1082.7,392.7 L1083.3,393.6 L1083.9,394.5 L1084.5,395.3 L1085.1,396.2 L1085.7,397.1 L1086.2,398.0 L1086.8,398.8 L1087.4,399.7 L1087.9,400.6 L1088.5,401.5 L1089.0,402.4 L1089.5,403.3 L1090.0,404.2 L1090.6,405.2 L1091.1,406.1 L1091.6,407.0 L1092.1,407.9 L1092.5,408.9 L1093.0,409.8 L1093.5,410.8 L1094.0,411.7 L1094.4,412.7 L1094.9,413.6 L1095.3,414.6 L1095.7,415.5 L1096.1,416.5 L1096.6,417.5 L1097.0,418.4 L1097.4,419.4 L1097.8,420.4 L1098.1,421.4 L1098.5,422.4 L1098.9,423.4 L1099.2,424.3 L1099.6,425.3 L1099.9,426.3 L1100.3,427.3 L1100.6,428.3 L1100.9,429.4 L1101.2,430.4 L1101.5,431.4 L1101.8,432.4 L1102.1,433.4 L1102.4,434.4 L1102.6,435.5 L1102.9,436.5 L1103.2,437.5 L1103.4,438.6 L1103.6,439.6 L1103.9,440.6 L1104.1,441.7 L1104.3,442.7 L1104.5,443.7 L1104.7,444.8 L1104.9,445.8 L1105.0,446.9 L1105.2,447.9 L1105.4,449.0 L1105.5,450.0 L1105.6,451.1 L1105.8,452.2 L1105.9,453.2 L1106.0,454.3 L1106.1,455.3 L1106.2,456.4 L1106.3,457.5 L1106.4,458.5 L1106.4,459.6 L1106.5,460.7 L1106.6,461.7 L1106.6,462.8 L1106.6,463.9 L1106.7,465.0 L1106.7,466.0 L1106.7,467.1 L1106.7,468.2 L1106.7,469.2 L1106.6,470.3 L1106.6,471.4" fill="none" stroke="#ff0000" stroke-width="4.3" stroke-linejoin="round" stroke-linecap="round"/>
<path d="M1106.8,471.4 L1108,466 L1112,462" fill="none" stroke="#ff0000" stroke-width="4.3" stroke-linecap="round"/>
</g>
<path d="M192.9,1105.5 L220.5,1080.2 L222.5,1078.2 L224.3,1076.2 L225.9,1074.0 L227.2,1071.7 L228.4,1069.4 L229.3,1066.9 L230.0,1064.3 L230.5,1060.9 L231.0,1057.6 L231.5,1054.2 L232.1,1050.9 L232.7,1047.6 L233.3,1044.3 L233.9,1041.0 L234.6,1037.7 L235.3,1034.4 L236.1,1031.2 L236.8,1027.9 L237.6,1024.7 L238.4,1021.5 L239.3,1018.3 L240.1,1015.1 L241.0,1011.9 L241.9,1008.7 L242.9,1005.6 L243.8,1002.4 L244.8,999.3 L245.9,996.2 L246.9,993.0 L248.0,990.0 L249.1,986.9 L250.2,983.8 L251.3,980.8 L252.5,977.7 L253.7,974.7 L254.9,971.7 L256.2,968.7 L257.5,965.7 L258.8,962.7 L260.1,959.7 L261.4,956.8 L262.8,953.9 L264.2,950.9 L265.6,948.0 L267.0,945.1 L268.5,942.3 L270.0,939.4 L271.5,936.5 L273.0,933.7 L274.5,930.9 L276.1,928.1 L277.7,925.3 L279.3,922.5 L281.0,919.7 L282.6,917.0 L284.3,914.3 L286.0,911.5 L287.7,908.8 L289.5,906.1 L291.2,903.5 L293.0,900.8 L294.8,898.1 L296.7,895.5 L298.5,892.9 L300.4,890.3 L302.3,887.7 L304.2,885.1 L306.1,882.6 L308.1,880.0 L310.0,877.5 L312.0,875.0 L314.0,872.5 L316.0,870.0 L318.1,867.5 L320.2,865.1 L322.2,862.6 L324.3,860.2 L326.5,857.8 L328.6,855.4 L330.7,853.0 L332.9,850.7 L335.1,848.3 L337.3,846.0 L339.5,843.7 L341.8,841.4 L344.0,839.1 L346.3,836.9 L348.6,834.6 L350.9,832.4 L353.3,830.2 L355.6,828.0 L358.0,825.8 L360.3,823.6 L362.7,821.5 L365.1,819.4 L367.6,817.2 L370.0,815.1 L372.5,813.1 L374.9,811.0 L377.4,809.0 L379.9,806.9 L382.4,804.9 L385.0,803.0 L387.5,801.1 L390.1,799.1 L392.6,797.2 L395.2,795.3 L397.8,793.5 L400.4,791.6 L403.1,789.8 L405.7,788.0 L408.4,786.2 L411.0,784.4 L413.7,782.6 L416.4,780.9 L419.1,779.1 L421.8,777.4 L424.6,775.7 L427.3,774.1 L430.1,772.4 L432.8,770.7 L435.6,769.0 L438.4,767.4 L441.2,765.7 L444.0,764.1 L446.8,762.5 L449.7,760.9 L452.5,759.3 L455.4,757.8 L458.2,756.3 L461.1,754.8 L464.0,753.3 L466.9,751.8 L469.8,750.3 L472.7,748.9 L475.7,747.6 L478.6,746.2 L481.6,744.9 L484.5,743.6 L487.5,742.3 L490.5,741.0 L493.5,739.8 L496.4,738.6 L499.5,737.4 L502.5,736.2 L505.5,735.0 L508.5,733.8 L511.5,732.7 L514.6,731.6 L517.6,730.5 L520.7,729.4 L523.8,728.4 L526.8,727.4 L529.9,726.3 L533.0,725.3 L536.1,724.4 L539.2,723.4 L542.3,722.5 L545.4,721.6 L548.6,720.7 L551.7,719.8 L554.8,719.0 L558.0,718.2 L561.1,717.4 L564.2,716.6 L567.4,715.8 L570.6,715.1 L573.7,714.4 L576.9,713.7 L580.1,713.0 L583.3,712.4 L586.4,711.7 L589.6,711.1 L592.8,710.5 L596.0,710.0 L599.2,709.4 L602.4,708.9 L605.6,708.3 L608.8,707.7 L612.1,707.2 L615.3,706.7 L618.5,706.2 L621.7,705.8 L624.9,705.3 L628.2,704.9 L631.4,704.5 L634.6,704.2 L637.9,703.8 L641.1,703.5 L644.4,703.2 L647.6,702.9 L650.8,702.6 L654.1,702.4 L657.3,702.1 L660.6,701.9 L663.8,701.8 L667.1,701.6 L670.3,701.5 L673.6,701.4 L676.8,701.3 L680.1,701.2 L683.3,701.2 L686.6,701.1 L689.8,701.1 L693.1,701.2 L696.3,701.2 L699.6,701.3 L702.8,701.4 L706.1,701.4 L709.3,701.6 L712.6,701.7 L715.8,701.8 L719.0,702.0 L722.3,702.2 L725.5,702.5 L728.8,702.7 L732.0,703.0 L735.2,703.3 L738.4,703.6 L741.7,703.9 L744.9,704.3 L748.1,704.7 L751.3,705.1 L754.5,705.5 L757.8,705.9 L761.0,706.4 L764.2,706.9 L767.4,707.4 L770.6,707.9 L773.7,708.5 L776.9,709.1 L780.1,709.7 L783.3,710.3 L786.5,711.0 L789.6,711.6 L792.8,712.3 L795.9,713.0 L799.1,713.7 L802.2,714.4 L805.4,715.2 L808.5,715.9 L811.6,716.7 L814.8,717.5 L817.9,718.4 L821.0,719.2 L824.1,720.1 L827.2,721.0 L830.2,721.9 L833.3,722.9 L836.4,723.9 L839.5,724.8 L842.5,725.9 L845.6,726.9 L848.6,727.9 L851.6,729.0 L854.7,730.1 L857.7,731.2 L860.7,732.4 L863.7,733.5 L866.7,734.7 L869.6,735.9 L872.6,737.1 L875.6,738.4 L878.5,739.6 L881.5,740.9 L884.4,742.2 L887.3,743.5 L890.2,744.9 L893.1,746.3 L896.0,747.6 L898.9,749.1 L901.7,750.5 L904.6,752.0 L907.4,753.5 L910.3,755.0 L913.1,756.5 L915.9,758.1 L918.7,759.6 L921.5,761.2 L924.3,762.8 L927.0,764.5 L929.8,766.1 L932.5,767.8 L935.2,769.5 L937.9,771.2 L940.6,773.0 L943.3,774.7 L946.0,776.5 L948.6,778.3 L951.3,780.1 L953.9,781.9 L956.5,783.8 L959.1,785.7 L961.7,787.6 L964.3,789.5 L966.8,791.4 L969.4,793.4 L971.9,795.4 L974.4,797.4 L976.9,799.4 L979.4,801.5 L981.8,803.6 L984.3,805.7 L986.7,807.8 L989.1,809.9 L991.5,812.1 L993.9,814.3 L996.3,816.4 L998.6,818.7 L1001.0,820.9 L1003.3,823.1 L1005.6,825.4 L1007.8,827.7 L1010.1,830.0 L1012.3,832.3 L1014.6,834.7 L1016.8,837.1 L1019.0,839.4 L1021.1,841.8 L1023.3,844.3 L1025.4,846.7 L1027.5,849.2 L1029.6,851.6 L1031.7,854.1 L1033.8,856.6 L1035.8,859.2 L1037.8,861.7 L1039.8,864.3 L1041.8,866.8 L1043.8,869.4 L1045.7,872.0 L1047.6,874.7 L1049.5,877.3 L1051.4,880.0 L1053.3,882.6 L1055.1,885.3 L1056.9,888.0 L1058.7,890.7 L1060.5,893.5 L1062.3,896.2 L1064.0,899.0 L1065.7,901.7 L1067.4,904.5 L1069.1,907.3 L1070.7,910.1 L1072.3,913.0 L1073.9,915.8 L1075.5,918.7 L1077.1,921.5 L1078.6,924.4 L1080.1,927.3 L1081.6,930.2 L1083.0,933.1 L1084.5,936.1 L1085.9,939.0 L1087.3,942.0 L1088.7,944.9 L1090.0,947.9 L1091.3,950.9 L1092.6,953.9 L1093.9,956.9 L1095.1,959.9 L1096.4,963.0 L1097.6,966.0 L1098.7,969.0 L1099.9,972.1 L1101.0,975.2 L1102.1,978.3 L1103.2,981.4 L1104.2,984.5 L1105.2,987.6 L1106.2,990.7 L1107.2,993.8 L1108.1,996.9 L1109.0,1000.1 L1109.9,1003.2 L1110.8,1006.4 L1111.6,1009.6 L1112.4,1012.7 L1113.2,1015.9 L1114.0,1019.1 L1114.7,1022.3 L1115.4,1025.5 L1116.1,1028.7 L1116.7,1031.9 L1117.3,1035.2 L1117.9,1038.4 L1118.5,1041.6 L1119.0,1044.9 L1119.5,1048.1 L1120.0,1051.4 L1120.4,1054.6 L1120.8,1057.9 L1121.2,1061.2 L1121.6,1064.5 L1121.9,1067.7 L1122.2,1071.0 L1122.4,1074.3 L1122.7,1077.6 L1122.9,1080.9 L1123.1,1084.2 L1123.2,1087.5 L1123.3,1090.8 L1123.4,1094.1 L1123.5,1097.4 L1123.5,1100.7" fill="none" stroke="#000084" stroke-width="4.5" stroke-linejoin="round" stroke-linecap="round"/>
<g fill="#fff" stroke="#000084" stroke-width="4.5">
<circle cx="1120.8" cy="1106.0" r="6.5"/>
<circle cx="1120.8" cy="1104.9" r="6.5"/>
<circle cx="1120.8" cy="1103.9" r="6.5"/>
<circle cx="1120.7" cy="1102.8" r="6.5"/>
<circle cx="1120.7" cy="1101.7" r="6.5"/>
<circle cx="1120.7" cy="1100.7" r="6.5"/>
<circle cx="1120.7" cy="1099.6" r="6.5"/>
<circle cx="1120.6" cy="1098.5" r="6.5"/>
<circle cx="1120.6" cy="1097.5" r="6.5"/>
<circle cx="1120.6" cy="1096.4" r="6.5"/>
<circle cx="1120.6" cy="1095.3" r="6.5"/>
<circle cx="1120.5" cy="1094.3" r="6.5"/>
<circle cx="1120.5" cy="1093.2" r="6.5"/>
<circle cx="1120.5" cy="1092.1" r="6.5"/>
<circle cx="1120.5" cy="1091.1" r="6.5"/>
<circle cx="1120.4" cy="1090.0" r="6.5"/>
<circle cx="1120.4" cy="1089.0" r="6.5"/>
<circle cx="1120.4" cy="1087.9" r="6.5"/>
<circle cx="1120.4" cy="1086.8" r="6.5"/>
<circle cx="1120.3" cy="1085.8" r="6.5"/>
<circle cx="1120.3" cy="1084.7" r="6.5"/>
<circle cx="1120.3" cy="1083.6" r="6.5"/>
<circle cx="1120.3" cy="1082.6" r="6.5"/>
<circle cx="1120.2" cy="1081.5" r="6.5"/>
<circle cx="1120.2" cy="1080.4" r="6.5"/>
<circle cx="1120.2" cy="1079.4" r="6.5"/>
<circle cx="1120.2" cy="1078.3" r="6.5"/>
<circle cx="1120.1" cy="1077.2" r="6.5"/>
<circle cx="1120.1" cy="1076.2" r="6.5"/>
<circle cx="1120.1" cy="1075.1" r="6.5"/>
<circle cx="1120.1" cy="1075.1" r="6.5"/>
<circle cx="1119.4" cy="1066.2" r="6.5"/>
<circle cx="1118.6" cy="1058.7" r="6.5"/>
<circle cx="1117.1" cy="1049.8" r="6.5"/>
<circle cx="1115.7" cy="1039.5" r="6.5"/>
<circle cx="1114.2" cy="1029.1" r="6.5"/>
<circle cx="1112.0" cy="1017.2" r="6.5"/>
<circle cx="1109.0" cy="1006.8" r="6.5"/>
<circle cx="1104.5" cy="989.7" r="6.5"/>
<circle cx="1099.3" cy="977.1" r="6.5"/>
<circle cx="1093.0" cy="959.3" r="6.5"/>
<circle cx="1084.3" cy="934.4" r="6.5"/>
<circle cx="1073.0" cy="911.9" r="6.5"/>
<circle cx="1058.5" cy="887.5" r="6.5"/>
<circle cx="1040.8" cy="861.4" r="6.5"/>
<circle cx="1018.6" cy="834.3" r="6.5"/>
<circle cx="991.5" cy="806.5" r="6.5"/>
<circle cx="959.8" cy="778.7" r="6.5"/>
<circle cx="922.8" cy="754.0" r="6.5"/>
<circle cx="880.9" cy="743.3" r="6.5"/>
<circle cx="835.3" cy="725.5" r="6.5"/>
<circle cx="786.0" cy="712.5" r="6.5"/>
<circle cx="735.1" cy="693.5" r="6.5"/>
<circle cx="684.0" cy="691.5" r="6.5"/>
<circle cx="633.8" cy="694.8" r="6.5"/>
<circle cx="584.6" cy="715.6" r="6.5"/>
<circle cx="538.2" cy="715.6" r="6.5"/>
<circle cx="494.9" cy="743.2" r="6.5"/>
<circle cx="451.0" cy="761.4" r="6.5"/>
<circle cx="416.5" cy="783.3" r="6.5"/>
<circle cx="383.7" cy="806.2" r="6.5"/>
<circle cx="354.4" cy="821.3" r="6.5"/>
<circle cx="330.2" cy="847.1" r="6.5"/>
<circle cx="309.5" cy="878.7" r="6.5"/>
<circle cx="292.8" cy="896.3" r="6.5"/>
<circle cx="278.5" cy="917.9" r="6.5"/>
<circle cx="267.3" cy="939.8" r="6.5"/>
<circle cx="258.6" cy="961.5" r="6.5"/>
<circle cx="252.5" cy="979.4" r="6.5"/>
<circle cx="246.9" cy="994.0" r="6.5"/>
<circle cx="242.6" cy="1005.0" r="6.5"/>
<circle cx="239.1" cy="1018.7" r="6.5"/>
<circle cx="236.6" cy="1027.5" r="6.5"/>
<circle cx="234.6" cy="1035.5" r="6.5"/>
<circle cx="232.8" cy="1042.0" r="6.5"/>
<circle cx="231.6" cy="1047.6" r="6.5"/>
<circle cx="230.8" cy="1052.5" r="6.5"/>
<circle cx="230.2" cy="1057.0" r="6.5"/>
<circle cx="229.7" cy="1061.0" r="6.5"/>
<circle cx="229.3" cy="1064.5" r="6.5"/>
<circle cx="229.0" cy="1067.5" r="6.5"/>
<circle cx="228.8" cy="1070.0" r="6.5"/>
<circle cx="228.5" cy="1073.0" r="6.5"/>
<circle cx="227.6" cy="1073.9" r="6.5"/>
<circle cx="226.6" cy="1074.7" r="6.5"/>
<circle cx="225.7" cy="1075.6" r="6.5"/>
<circle cx="224.8" cy="1076.4" r="6.5"/>
<circle cx="223.9" cy="1077.3" r="6.5"/>
<circle cx="222.9" cy="1078.1" r="6.5"/>
<circle cx="222.0" cy="1079.0" r="6.5"/>
<circle cx="222.0" cy="1079.0" r="6.5"/>
<circle cx="221.2" cy="1079.7" r="6.5"/>
<circle cx="220.4" cy="1080.4" r="6.5"/>
<circle cx="219.5" cy="1081.0" r="6.5"/>
<circle cx="218.7" cy="1081.7" r="6.5"/>
<circle cx="217.9" cy="1082.4" r="6.5"/>
<circle cx="217.1" cy="1083.1" r="6.5"/>
<circle cx="216.2" cy="1083.8" r="6.5"/>
<circle cx="215.4" cy="1084.4" r="6.5"/>
<circle cx="214.6" cy="1085.1" r="6.5"/>
<circle cx="213.8" cy="1085.8" r="6.5"/>
<circle cx="212.9" cy="1086.5" r="6.5"/>
<circle cx="212.1" cy="1087.2" r="6.5"/>
<circle cx="211.3" cy="1087.8" r="6.5"/>
<circle cx="210.5" cy="1088.5" r="6.5"/>
<circle cx="209.6" cy="1089.2" r="6.5"/>
<circle cx="208.8" cy="1089.9" r="6.5"/>
<circle cx="208.0" cy="1090.6" r="6.5"/>
<circle cx="207.2" cy="1091.2" r="6.5"/>
<circle cx="206.3" cy="1091.9" r="6.5"/>
<circle cx="205.5" cy="1092.6" r="6.5"/>
<circle cx="204.7" cy="1093.3" r="6.5"/>
<circle cx="203.9" cy="1094.0" r="6.5"/>
<circle cx="203.0" cy="1094.6" r="6.5"/>
<circle cx="202.2" cy="1095.3" r="6.5"/>
<circle cx="201.4" cy="1096.0" r="6.5"/>
</g>
<g fill="#000">
<text x="110.34" y="34.0" font-size="44" text-anchor="start">0.2</text>
<text x="110.34" y="262.3" font-size="44" text-anchor="start">0.</text>
<path transform="translate(147.04,262.3) scale(0.021484,-0.021484)" d="M815,0 L635,0 L635,1137 Q565,1075 455,1015 Q345,955 222,925 L222,1100 Q390,1170 510,1272 Q630,1374 690,1472 L815,1472 Z"/>
<text x="110.34" y="490.6" font-size="44" text-anchor="start">0.0</text>
<text x="108.14" y="666.3" font-size="44" text-anchor="start">0.2</text>
<text x="108.14" y="894.5" font-size="44" text-anchor="start">0.</text>
<path transform="translate(144.84,894.5) scale(0.021484,-0.021484)" d="M815,0 L635,0 L635,1137 Q565,1075 455,1015 Q345,955 222,925 L222,1100 Q390,1170 510,1272 Q630,1374 690,1472 L815,1472 Z"/>
<text x="108.14" y="1122.7" font-size="44" text-anchor="start">0.0</text>
<text x="163.52" y="564.3" font-size="44" text-anchor="start">0.0</text>
<text x="161.72" y="1199.5" font-size="44" text-anchor="start">0.0</text>
<text x="391.77" y="564.3" font-size="44" text-anchor="start">0.</text>
<path transform="translate(428.47,564.3) scale(0.021484,-0.021484)" d="M815,0 L635,0 L635,1137 Q565,1075 455,1015 Q345,955 222,925 L222,1100 Q390,1170 510,1272 Q630,1374 690,1472 L815,1472 Z"/>
<text x="389.87" y="1199.5" font-size="44" text-anchor="start">0.</text>
<path transform="translate(426.57,1199.5) scale(0.021484,-0.021484)" d="M815,0 L635,0 L635,1137 Q565,1075 455,1015 Q345,955 222,925 L222,1100 Q390,1170 510,1272 Q630,1374 690,1472 L815,1472 Z"/>
<text x="620.62" y="564.3" font-size="44" text-anchor="start">0.2</text>
<text x="618.02" y="1199.5" font-size="44" text-anchor="start">0.2</text>
<text x="848.87" y="564.3" font-size="44" text-anchor="start">0.3</text>
<text x="846.17" y="1199.5" font-size="44" text-anchor="start">0.3</text>
<text x="1074.92" y="564.3" font-size="44" text-anchor="start">0.4</text>
<text x="1074.92" y="1199.5" font-size="44" text-anchor="start">0.4</text>
<text x="229" y="100" font-size="44" text-anchor="start">(a)</text>
<text x="229" y="743" font-size="44" text-anchor="start">(b)</text>
<text x="430.1" y="422.2" font-size="44.4" text-anchor="start">Calculated</text>
<text x="504" y="1054.3" font-size="44" text-anchor="start">Fitted</text>
<text x="861.75" y="84.8" font-size="44" font-style="italic">Z</text>
<text x="906.9" y="92.3" font-size="35" font-style="italic" text-anchor="middle">ccl</text>
<text x="773" y="188.6" font-size="44" font-style="italic">Z</text>
<text x="833.85" y="196.5" font-size="35" font-style="italic" text-anchor="middle">ct+p</text>
<text x="922.6" y="308.9" font-size="44" font-style="italic">Z</text>
<text x="967.65" y="316.9" font-size="35" font-style="italic" text-anchor="middle">ox</text>
<text x="1069" y="233.5" font-size="44" font-style="italic">Z</text>
<text x="1108.65" y="241.4" font-size="35" font-style="italic" text-anchor="middle">N</text>
<text x="490.5" y="1269.5" font-size="44.5">Re(Z) / Ohm cm<tspan font-size="35" dy="-24.5">2</tspan></text>
<text transform="translate(57,358.2) rotate(-90)" font-size="44.5">-Im(Z) / Ohm cm<tspan font-size="36" dy="-25.5">2</tspan></text>
<text transform="translate(51,991.5) rotate(-90)" font-size="44.5">-Im(Z) / Ohm cm<tspan font-size="36" dy="-25.5">2</tspan></text>
</g>
</svg>
</body></html>
